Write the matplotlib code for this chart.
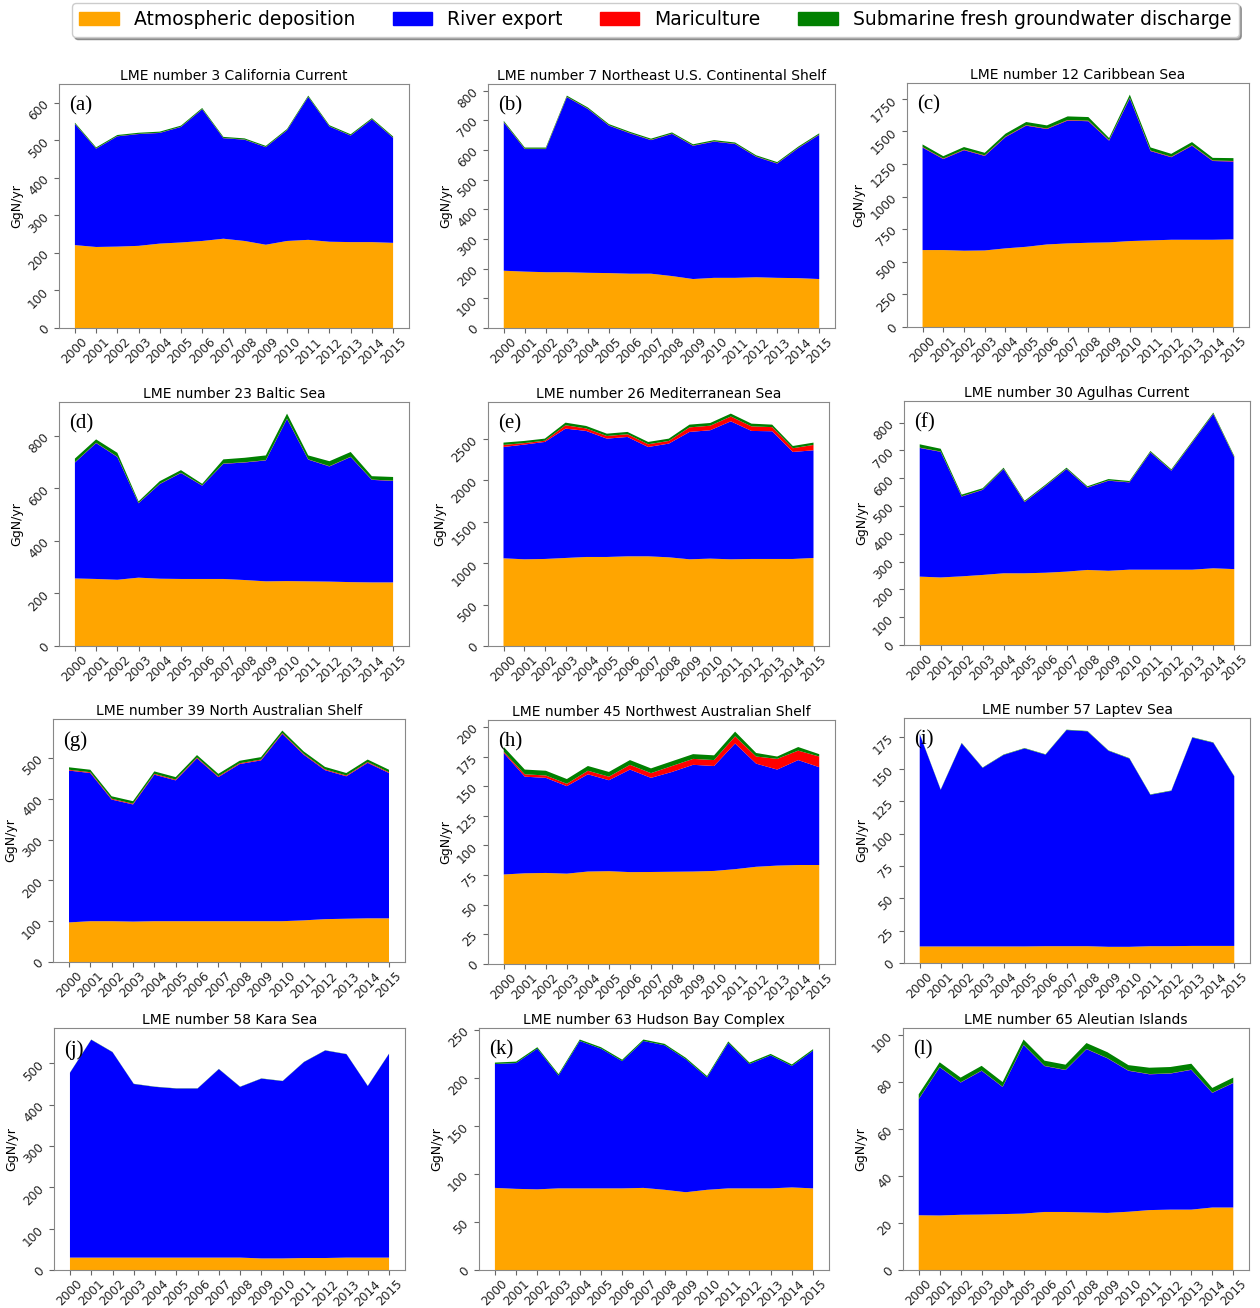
import matplotlib.pyplot as plt
from matplotlib.patches import Patch
import numpy as np

years = [str(y) for y in range(2000, 2016)]

# nitrogen inputs per LME, GgN/yr
titles = ['LME number 3 California Current',
          'LME number 7 Northeast U.S. Continental Shelf',
          'LME number 12 Caribbean Sea',
          'LME number 23 Baltic Sea',
          'LME number 26 Mediterranean Sea',
          'LME number 30 Agulhas Current',
          'LME number 39 North Australian Shelf',
          'LME number 45 Northwest Australian Shelf',
          'LME number 57 Laptev Sea',
          'LME number 58 Kara Sea',
          'LME number 63 Hudson Bay Complex',
          'LME number 65 Aleutian Islands']
letters = ['(a)', '(b)', '(c)', '(d)', '(e)', '(f)', '(g)', '(h)', '(i)', '(j)', '(k)', '(l)']

atm_3 = [221, 216, 217, 219, 225, 228, 232, 238, 232, 222, 232, 235, 230, 229, 229, 227]
riv_3 = [323, 262, 294, 298, 295, 308, 351, 268, 270, 260, 295, 381, 307, 284, 327, 280]
mar_3 = [0.5] * 16
sgd_3 = [3] * 16

atm_7 = [193, 190, 188, 188, 186, 185, 183, 183, 175, 165, 169, 169, 171, 169, 168, 165]
riv_7 = [500, 413, 415, 590, 552, 497, 473, 450, 479, 449, 459, 451, 406, 385, 438, 486]
mar_7 = [1] * 16
sgd_7 = [4] * 16

atm_12 = [590, 590, 585, 587, 603, 615, 633, 641, 646, 649, 659, 664, 669, 669, 669, 672]
riv_12 = [786, 698, 771, 725, 853, 929, 885, 942, 932, 780, 1095, 685, 633, 721, 604, 597]
mar_12 = [4] * 16
sgd_12 = [20, 18, 20, 20, 22, 24, 24, 28, 28, 16, 24, 24, 22, 24, 20, 22]

atm_23 = [257, 255, 252, 260, 256, 255, 255, 255, 251, 246, 247, 246, 245, 243, 242, 242]
riv_23 = [441, 517, 467, 283, 360, 403, 355, 438, 447, 460, 617, 463, 438, 476, 390, 386]
mar_23 = [1] * 16
sgd_23 = [14, 13, 15, 6, 10, 10, 6, 16, 17, 18, 19, 15, 19, 18, 13, 14]

atm_26 = [1059, 1047, 1051, 1063, 1075, 1075, 1083, 1083, 1071, 1047, 1055, 1047, 1051, 1051, 1051, 1063]
riv_26 = [1344, 1385, 1413, 1562, 1522, 1429, 1441, 1320, 1373, 1538, 1550, 1666, 1546, 1542, 1292, 1300]
mar_26 = [25, 18, 15, 40, 30, 32, 33, 33, 32, 55, 55, 58, 55, 50, 45, 65]
sgd_26 = [28, 26, 25, 32, 30, 28, 28, 28, 28, 33, 33, 35, 33, 30, 27, 28]

atm_30 = [246, 243, 247, 252, 258, 258, 260, 264, 270, 267, 271, 271, 271, 271, 276, 273]
riv_30 = [463, 452, 287, 306, 375, 256, 312, 369, 296, 324, 314, 422, 356, 458, 555, 402]
mar_30 = [1] * 16
sgd_30 = [12, 10, 6, 5, 4, 4, 4, 4, 4, 5, 4, 4, 4, 4, 4, 4]

atm_39 = [97, 100, 100, 99, 100, 100, 100, 100, 100, 100, 100, 102, 105, 106, 107, 107]
riv_39 = [372, 363, 298, 287, 359, 345, 399, 353, 385, 394, 459, 406, 365, 349, 381, 356]
mar_39 = [2] * 16
sgd_39 = [6] * 16

atm_45 = [75.5, 76.5, 76.8, 76.2, 78, 78.3, 77.5, 77.6, 77.8, 78, 78.5, 80, 82, 83, 83.5, 83.5]
riv_45 = [102.5, 81.5, 80.2, 73.8, 82, 76.7, 86.5, 79.4, 84.2, 90, 88.5, 106, 87, 81, 88.5, 82.5]
mar_45 = [1, 2, 2, 2, 3, 3, 4, 4, 5, 5, 5, 6, 6, 9, 8, 9]
sgd_45 = [4, 4, 4, 4, 4, 4, 4, 4, 4, 4, 4, 4, 3, 2, 3, 2]

atm_57 = [12.8, 12.8, 12.8, 12.8, 12.8, 12.8, 13, 13, 13, 12.5, 12.5, 13, 13, 13.2, 13.2, 13.2]
riv_57 = [164, 121, 157, 138, 148, 153, 148, 167, 166, 151.5, 145.5, 117, 120, 161, 157, 131]
mar_57 = [0] * 16
sgd_57 = [0.3] * 16

atm_58 = [30, 30, 30, 30, 30, 30, 30, 30, 30, 28, 28, 29, 29, 30, 30, 30]
riv_58 = [447, 527, 497, 420, 413, 409, 409, 456, 413, 435, 429, 474, 502, 492, 415, 493]
mar_58 = [0] * 16
sgd_58 = [0.5] * 16

atm_63 = [85.5, 84.5, 84, 85, 85, 85, 85, 85.5, 83.5, 81, 83.5, 85, 85, 85, 86, 85]
riv_63 = [129, 131, 146.5, 117.5, 153.5, 145.5, 132.5, 153, 150.5, 138.5, 117, 151.5, 129.5, 138.5, 126.5, 143.5]
mar_63 = [0] * 16
sgd_63 = [1.5] * 16

atm_65 = [23.3, 23.2, 23.5, 23.6, 23.8, 24, 24.7, 24.7, 24.5, 24.3, 24.8, 25.5, 25.7, 25.7, 26.6, 26.6]
riv_65 = [49.4, 63.1, 56.3, 61.2, 54.1, 71.8, 62.1, 60.4, 69.5, 65.8, 60, 57.8, 57.9, 59.5, 48.8, 53]
mar_65 = [0.1] * 16
sgd_65 = [2, 2, 2, 2, 2, 2.2, 2.2, 2.2, 2.5, 2.5, 2.3, 2.7, 2.7, 2.5, 2, 2.2]

panels = [(atm_3, riv_3, mar_3, sgd_3), (atm_7, riv_7, mar_7, sgd_7),
          (atm_12, riv_12, mar_12, sgd_12), (atm_23, riv_23, mar_23, sgd_23),
          (atm_26, riv_26, mar_26, sgd_26), (atm_30, riv_30, mar_30, sgd_30),
          (atm_39, riv_39, mar_39, sgd_39), (atm_45, riv_45, mar_45, sgd_45),
          (atm_57, riv_57, mar_57, sgd_57), (atm_58, riv_58, mar_58, sgd_58),
          (atm_63, riv_63, mar_63, sgd_63), (atm_65, riv_65, mar_65, sgd_65)]

labels = ['Atmospheric deposition', 'River export', 'Mariculture',
          'Submarine fresh groundwater discharge']
colors = ['orange', 'blue', 'red', 'green']

# axes boxes in pixels: left, top, right, bottom
W, H = 1260, 1308
boxes = [(59, 84, 409, 328), (488, 84, 835, 328), (907, 83, 1249, 327),
         (59, 402, 409, 646), (488, 402, 829, 646), (904, 401, 1250, 645),
         (53, 719, 405, 962), (488, 720, 835, 964), (904, 718, 1250, 963),
         (54, 1028, 405, 1270), (479, 1028, 829, 1270), (903, 1028, 1249, 1270)]

fig = plt.figure(figsize=(W / 100, H / 100), dpi=100)

for i, (data, title, letter) in enumerate(zip(panels, titles, letters)):
    l, t, r, b = boxes[i]
    ax = fig.add_axes([l / W, 1 - b / H, (r - l) / W, (b - t) / H])
    x = np.arange(len(years))
    ax.stackplot(x, *data, colors=colors)
    ax.set_ylim(bottom=0)
    ax.set_xticks(x)
    ax.set_xticklabels(years)
    ax.tick_params(axis='both', labelrotation=45, labelsize=8.7, pad=2,
                   colors='#666666', labelcolor='#222222')
    for sp in ax.spines.values():
        sp.set_color('#888888')
    ax.set_title(title, fontsize=10, pad=3)
    ax.set_ylabel('GgN/yr', fontsize=9, labelpad=2)
    ax.text(0.03, 0.95, letter, transform=ax.transAxes, ha='left', va='top',
            fontsize=15, family='Liberation Serif')

handles = [Patch(color=c) for c in colors]
fig.legend(handles, labels, loc='upper center', ncol=4, fontsize=13.5,
           bbox_to_anchor=(0.52, 1.0), shadow=True, frameon=True,
           handlelength=2.1, columnspacing=2.0, borderaxespad=0.15)

fig.savefig('out.png', dpi=100)
